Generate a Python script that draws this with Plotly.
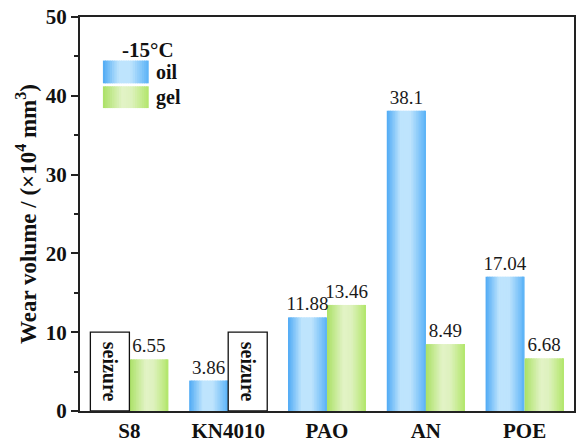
import plotly.graph_objects as go

# ---- data ----
categories = ["S8", "KN4010", "PAO", "AN", "POE"]
oil_values = [None, 3.86, 11.88, 38.1, 17.04]      # None = seizure
gel_values = [6.55, None, 13.46, 8.49, 6.68]        # None = seizure
oil_labels = ["", "3.86", "11.88", "38.1", "17.04"]
gel_labels = ["6.55", "", "13.46", "8.49", "6.68"]
seizure_height = 10
seizure_categories = ["S8", "KN4010"]
seizure_series = ["oil", "gel"]
y_ticks = [0, 10, 20, 30, 40, 50]

FONT = "Liberation Serif"
W = 0.395     # bar width in category units
K = 24        # strips per bar for the gradient

oil_stops = [(0.0, (78, 170, 244)), (0.35, (190, 228, 253)), (0.6, (190, 228, 253)), (1.0, (90, 178, 247))]
gel_stops = [(0.0, (170, 225, 100)), (0.42, (226, 243, 198)), (0.62, (222, 242, 190)), (1.0, (178, 230, 106))]


def ramp(stops, t):
    for (t0, c0), (t1, c1) in zip(stops[:-1], stops[1:]):
        if t <= t1:
            f = (t - t0) / (t1 - t0) if t1 > t0 else 0
            c = [round(a + (b - a) * f) for a, b in zip(c0, c1)]
            return "rgb(%d,%d,%d)" % tuple(c)
    c = stops[-1][1]
    return "rgb(%d,%d,%d)" % c


fig = go.Figure()


def add_gradient_bars(values, stops, base_offset):
    sw = W / K
    for i in range(K):
        t = (i + 0.5) / K
        w = sw * 1.6 if i < K - 1 else sw
        fig.add_trace(go.Bar(
            x=categories, y=values,
            width=w, offset=base_offset + i * sw,
            marker=dict(color=ramp(stops, t), line=dict(width=0)),
            showlegend=False, hoverinfo="skip",
        ))


add_gradient_bars(oil_values, oil_stops, -W)
add_gradient_bars(gel_values, gel_stops, 0.0)

# value labels (only for bars that have a value)
for vals, labs, off in [(oil_values, oil_labels, -W), (gel_values, gel_labels, 0.0)]:
    xs = [c for c, v in zip(categories, vals) if v is not None]
    ys = [v for v in vals if v is not None]
    ts = [t for v, t in zip(vals, labs) if v is not None]
    fig.add_trace(go.Bar(
        x=xs, y=ys, width=W, offset=off,
        marker=dict(color="rgba(0,0,0,0)", line=dict(width=0)),
        text=ts, textposition="outside", textangle=0, constraintext="none",
        textfont=dict(family=FONT, size=19, color="#1a1a1a"),
        cliponaxis=False, showlegend=False, hoverinfo="skip",
    ))

# seizure boxes
fig.add_trace(go.Bar(
    x=seizure_categories, y=[seizure_height] * len(seizure_categories),
    width=W, offset=[-W if s == "oil" else 0.0 for s in seizure_series],
    marker=dict(color="white", line=dict(color="#111", width=1.3)),
    text=["seizure"] * len(seizure_categories), textposition="inside",
    insidetextanchor="middle", textangle=90, constraintext="none",
    insidetextfont=dict(family=FONT, size=20, color="#111", weight="bold"),
    showlegend=False, hoverinfo="skip",
))

# ---- layout ----
L, R, T, B = 80, 5, 15, 35
FW, FH = 581, 448
PW, PH = FW - L - R, FH - T - B


def px(x):
    return (x - L) / PW


def py(y):
    return (FH - B - y) / PH


shapes = []
annotations = []
# manual legend
for (y0, y1, stops) in [(59, 82, oil_stops), (85, 107, gel_stops)]:
    x0, x1 = 103, 149
    n = 20
    for i in range(n):
        a = x0 + (x1 - x0) * i / n
        b = x0 + (x1 - x0) * (i + 1) / n + (0.8 if i < n - 1 else 0)
        shapes.append(dict(type="rect", xref="paper", yref="paper",
                           x0=px(a), x1=px(b), y0=py(y1), y1=py(y0),
                           fillcolor=ramp(stops, (i + 0.5) / n), line=dict(width=0), layer="above"))
annotations.append(dict(text="-15°C", xref="paper", yref="paper", x=px(148), y=py(48),
                        xanchor="center", yanchor="middle", showarrow=False,
                        font=dict(family=FONT, size=21, color="#111", weight="bold")))
annotations.append(dict(text="oil", xref="paper", yref="paper", x=px(154), y=py(71),
                        xanchor="left", yanchor="middle", showarrow=False,
                        font=dict(family=FONT, size=20, color="#111", weight="bold")))
annotations.append(dict(text="gel", xref="paper", yref="paper", x=px(154), y=py(96),
                        xanchor="left", yanchor="middle", showarrow=False,
                        font=dict(family=FONT, size=20, color="#111", weight="bold")))

fig.update_layout(
    width=FW, height=FH,
    margin=dict(l=L, r=R, t=T, b=B, pad=0),
    barmode="overlay",
    paper_bgcolor="white", plot_bgcolor="white",
    showlegend=False,
    shapes=shapes, annotations=annotations,
    xaxis=dict(
        type="category", categoryorder="array", categoryarray=categories,
        range=[-0.5, len(categories) - 0.5],
        showline=True, linecolor="#222", linewidth=2, mirror=True,
        ticks="", showgrid=False, zeroline=False,
        tickfont=dict(family=FONT, size=21, color="#111", weight="bold"),
    ),
    yaxis=dict(
        range=[0, 50], tickvals=y_ticks,
        showline=True, linecolor="#222", linewidth=2, mirror=True,
        ticks="outside", ticklen=7, tickwidth=2, tickcolor="#222",
        minor=dict(ticks="outside", ticklen=4, tickwidth=1.5, tickcolor="#222", dtick=5, showgrid=False),
        showgrid=False, zeroline=False,
        tickfont=dict(family=FONT, size=21, color="#111", weight="bold"),
        title=dict(text="Wear volume / (×10<sup>4</sup> mm<sup>3</sup>)",
                   font=dict(family=FONT, size=23, color="#111", weight="bold"), standoff=3),
    ),
)

fig.write_html("out.html")
